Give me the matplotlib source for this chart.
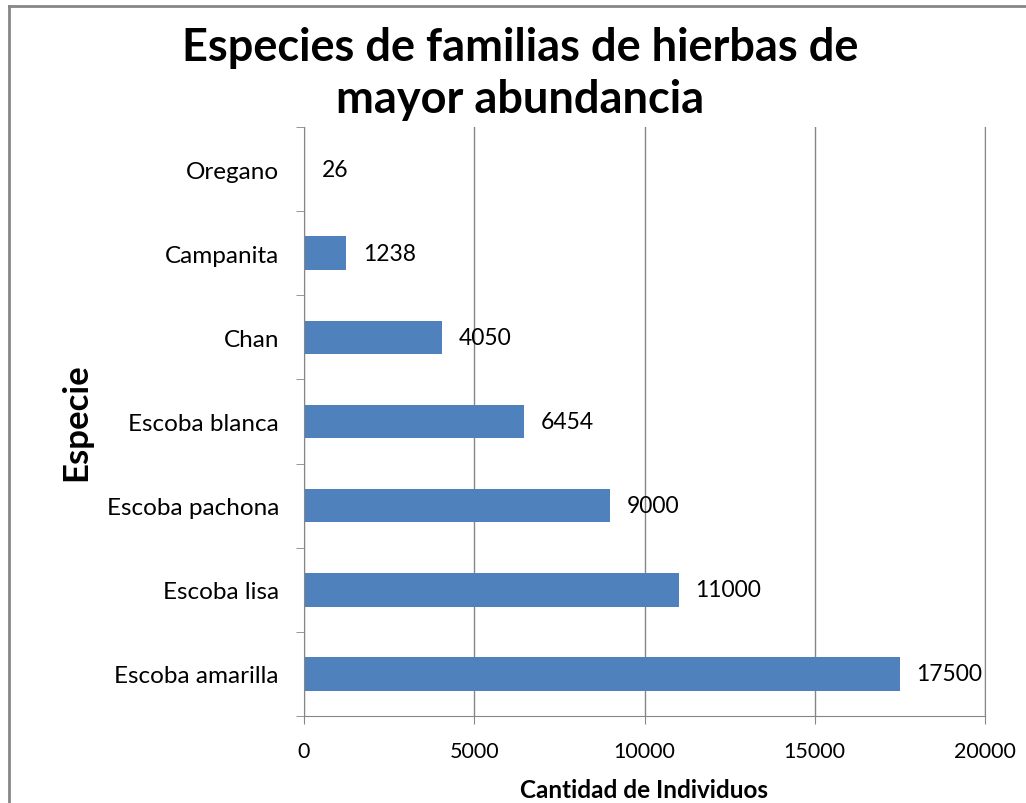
import matplotlib.pyplot as plt
from matplotlib.lines import Line2D

especies = ['Escoba amarilla', 'Escoba lisa', 'Escoba pachona', 'Escoba blanca',
            'Chan', 'Campanita', 'Oregano']
individuos = [17500, 11000, 9000, 6454, 4050, 1238, 26]
xticks = [0, 5000, 10000, 15000, 20000]

plt.rcParams['font.family'] = ['Lato', 'DejaVu Sans']

fig = plt.figure(figsize=(10.26, 8.04), dpi=100)
ax = fig.add_axes([304/1026, 1 - 717/804, (985 - 304)/1026, (717 - 128)/804])

pos = list(range(len(especies)))
ax.barh(pos, individuos, height=0.4, color='#4F81BD', linewidth=0, zorder=2)
for p, v in zip(pos, individuos):
    ax.annotate(str(v), (v, p), xytext=(12, 0), textcoords='offset points',
                va='center', ha='left', fontsize=16.5, color='#000000', zorder=4)

ax.set_xlim(0, 20000)
ax.set_ylim(-0.5, len(especies) - 0.5)
ax.set_xticks(xticks)
ax.set_xticklabels([str(t) for t in xticks], fontsize=15.5)
ax.set_yticks(pos)
ax.set_yticklabels(especies, fontsize=17.5)
ax.set_yticks([p - 0.5 for p in range(len(especies) + 1)], minor=True)
ax.tick_params(axis='y', which='major', length=0, pad=18)
ax.tick_params(axis='y', which='minor', length=6, color='#868686', direction='out')
ax.tick_params(axis='x', which='major', length=6, color='#868686', direction='out', pad=12)

ax.xaxis.grid(True, color='#868686', linewidth=1, zorder=0)
ax.spines['top'].set_visible(False)
for s in ['left', 'bottom', 'right']:
    ax.spines[s].set_color('#868686')
    ax.spines[s].set_zorder(3)

ax.set_xlabel('Cantidad de Individuos', fontsize=17.5, fontweight='bold', labelpad=12)
ax.set_ylabel('Especie', fontsize=25, fontweight='bold', labelpad=10)

fig.text(0.507, 0.908, 'Especies de familias de hierbas de\nmayor abundancia',
         ha='center', va='center', fontsize=32.5, fontweight='bold', linespacing=1.3)

# marco del grafico
fig.add_artist(Line2D([9/1026, 9/1026], [0, 1 - 7/804], color='#868686', linewidth=2))
fig.add_artist(Line2D([9/1026, 1], [1 - 7/804, 1 - 7/804], color='#868686', linewidth=2))

plt.savefig('out.png')
